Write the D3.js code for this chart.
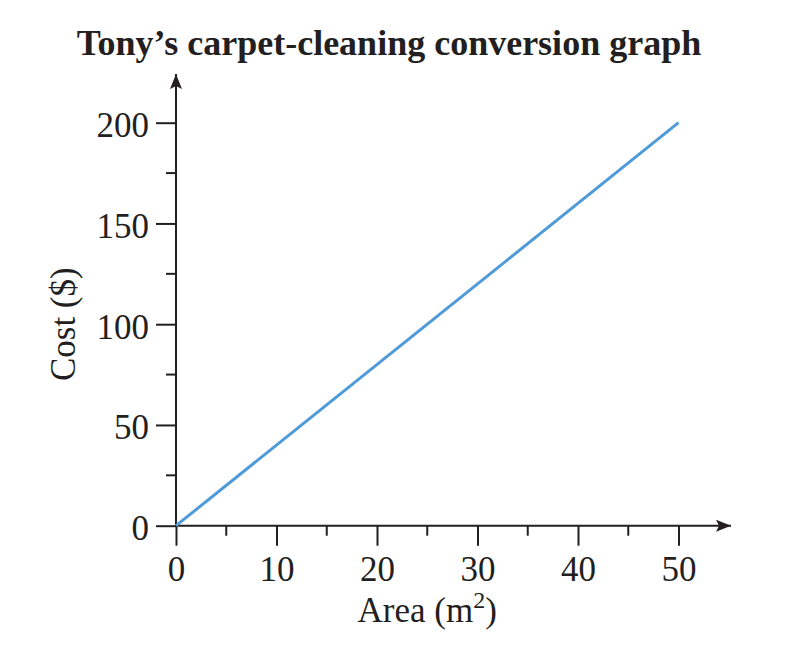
<!DOCTYPE html>
<html>
<head>
<meta charset="utf-8">
<script src="https://cdn.jsdelivr.net/npm/d3@7"></script>
<style>
  body { margin: 0; background: #fff; }
  svg text { font-family: "Liberation Serif", "DejaVu Serif", serif; fill: #231f20; }
</style>
</head>
<body>
<div id="chart"></div>
<script>
// chart values
const title = 'Tony’s carpet-cleaning conversion graph';
const areaValues = [0, 50];
const costValues = [0, 200];
const xTicks = [0, 10, 20, 30, 40, 50];
const xMinorTicks = [5, 15, 25, 35, 45];
const yTicks = [0, 50, 100, 150, 200];
const yMinorTicks = [25, 75, 125, 175];

const width = 812;
const height = 654;
const ink = '#231f20';

const svg = d3.select('#chart')
    .append('svg')
    .attr('width', width)
    .attr('height', height);

const xScale = d3.scaleLinear().domain([0, 50]).range([176, 678.5]);
const yScale = d3.scaleLinear().domain([0, 200]).range([525.7, 122.7]);

// arrow heads for the axes
svg.append('defs').append('marker')
    .attr('id', 'arrow')
    .attr('viewBox', '0 0 15 12')
    .attr('refX', 15)
    .attr('refY', 6)
    .attr('markerWidth', 15)
    .attr('markerHeight', 12)
    .attr('markerUnits', 'userSpaceOnUse')
    .attr('orient', 'auto')
    .append('path')
    .attr('d', 'M0,0 L15,6 L0,12 L3,6 Z')
    .attr('fill', ink);

// x axis
const xAxis = d3.axisBottom(xScale)
    .tickValues(xTicks)
    .tickSize(20)
    .tickPadding(9)
    .tickFormat(d3.format('d'));
const gx = svg.append('g')
    .attr('transform', `translate(0, ${yScale(0)})`)
    .call(xAxis);
gx.select('.domain').remove();
gx.selectAll('.tick line').attr('stroke', ink).attr('stroke-width', 2);
gx.selectAll('.tick text').attr('font-size', 35).attr('dy', '0.76em');
gx.selectAll('.minor')
    .data(xMinorTicks)
    .join('line')
    .attr('class', 'minor')
    .attr('x1', (d) => xScale(d))
    .attr('x2', (d) => xScale(d))
    .attr('y1', 0)
    .attr('y2', 10)
    .attr('stroke', ink)
    .attr('stroke-width', 2);

// y axis
const yAxis = d3.axisLeft(yScale)
    .tickValues(yTicks)
    .tickSize(20)
    .tickPadding(7)
    .tickFormat(d3.format('d'));
const gy = svg.append('g')
    .attr('transform', `translate(${xScale(0)}, 0)`)
    .call(yAxis);
gy.select('.domain').remove();
gy.selectAll('.tick line').attr('stroke', ink).attr('stroke-width', 2);
gy.selectAll('.tick text').attr('font-size', 35).attr('dy', '0.4em');
gy.selectAll('.minor')
    .data(yMinorTicks)
    .join('line')
    .attr('class', 'minor')
    .attr('y1', (d) => yScale(d))
    .attr('y2', (d) => yScale(d))
    .attr('x1', 0)
    .attr('x2', -10)
    .attr('stroke', ink)
    .attr('stroke-width', 2);

// axis lines with arrows
svg.append('line')
    .attr('x1', xScale(0)).attr('y1', yScale(0))
    .attr('x2', 731).attr('y2', yScale(0))
    .attr('stroke', ink).attr('stroke-width', 2)
    .attr('marker-end', 'url(#arrow)');
svg.append('line')
    .attr('x1', xScale(0)).attr('y1', yScale(0))
    .attr('x2', xScale(0)).attr('y2', 74)
    .attr('stroke', ink).attr('stroke-width', 2)
    .attr('marker-end', 'url(#arrow)');

// conversion line
const line = d3.line()
    .x((d, i) => xScale(areaValues[i]))
    .y((d) => yScale(d));
svg.append('path')
    .datum(costValues)
    .attr('d', line)
    .attr('fill', 'none')
    .attr('stroke', '#4f9ad8')
    .attr('stroke-width', 3);

// title
svg.append('text')
    .attr('x', 389)
    .attr('y', 55)
    .attr('text-anchor', 'middle')
    .attr('font-size', 36)
    .attr('font-weight', 'bold')
    .text(title);

// axis labels
const xLabel = svg.append('text')
    .attr('x', (xScale(0) + xScale(50)) / 2)
    .attr('y', 622)
    .attr('text-anchor', 'middle')
    .attr('font-size', 35);
xLabel.append('tspan').text('Area (m');
xLabel.append('tspan').attr('font-size', 24).attr('dy', -14).text('2');
xLabel.append('tspan').attr('dy', 14).text(')');

svg.append('text')
    .attr('transform', `translate(75, ${(yScale(0) + yScale(200)) / 2}) rotate(-90)`)
    .attr('text-anchor', 'middle')
    .attr('font-size', 35)
    .text('Cost ($)');
</script>
</body>
</html>
